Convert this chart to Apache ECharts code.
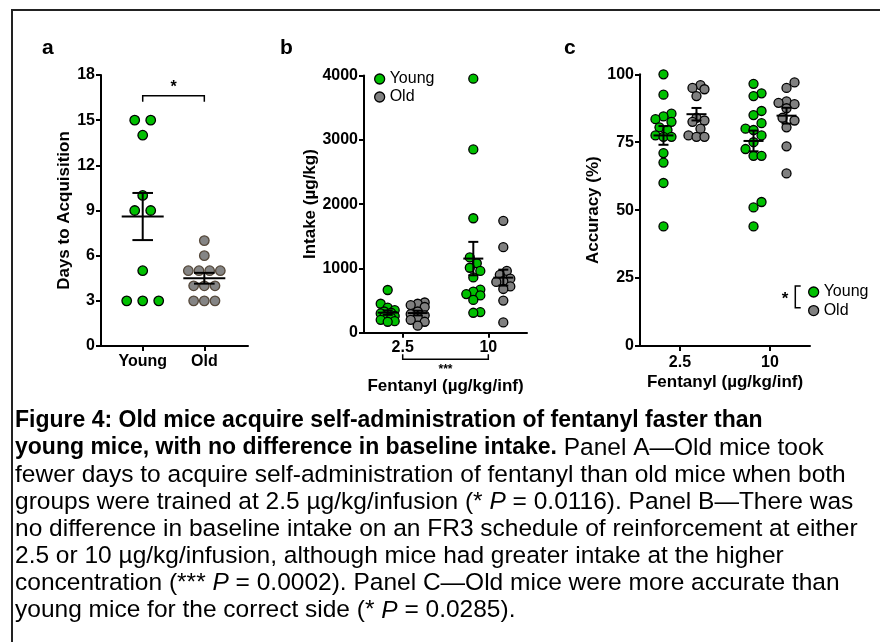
<!DOCTYPE html>
<html><head><meta charset="utf-8">
<script src="https://cdn.jsdelivr.net/npm/echarts@6/dist/echarts.min.js"></script>
<style>html,body{margin:0;padding:0;background:#fff}#c{width:880px;height:642px}</style>
</head><body><div id="c"></div>
<script>
// ---------- DATA ----------
// Panel a: days to acquisition
const groupsA = ['Young', 'Old'];
const daysYoung = [15, 15, 14, 10, 9, 9, 5, 3, 3, 3];
const daysOld = [7, 6, 5, 5, 5, 5, 4, 4, 4, 3, 3, 3];
const ticksA = [0, 3, 6, 9, 12, 15, 18];
// Panel b: intake (ug/kg) by dose
const doses = ['2.5', '10'];
const intakeYoung25 = [664, 450, 390, 350, 330, 310, 300, 280, 260, 250, 230, 200, 180, 170];
const intakeOld25 = [470, 450, 430, 400, 330, 290, 270, 240, 200, 170, 110];
const intakeYoung10 = [3950, 2850, 1780, 1170, 1080, 1010, 960, 860, 670, 640, 600, 580, 510, 320, 310];
const intakeOld10 = [1740, 1330, 960, 900, 840, 800, 790, 720, 680, 500, 160];
const ticksB = [0, 1000, 2000, 3000, 4000];
// Panel c: accuracy (%) by dose
const accYoung25 = [100, 92.5, 85.5, 84.5, 83.5, 82.5, 80.5, 79.5, 77.5, 77, 77, 71, 67.5, 60, 44];
const accOld25 = [96, 95, 94.5, 92, 84, 83, 82.5, 80, 77.5, 77, 77];
const accYoung10 = [96.5, 93, 92, 86.5, 85, 82, 80, 79.5, 77.5, 75, 72.5, 70, 70, 53, 51, 44];
const accOld10 = [97, 95, 90, 89.5, 89, 87.5, 84, 83, 80.5, 73.5, 63.5];
const ticksC = [0, 25, 50, 75, 100];

const captionLines = [
  [['b', 'Figure 4: Old mice acquire self-administration of fentanyl faster than']],
  [['b', 'young mice, with no difference in baseline intake.'], ['r', ' Panel A\u2014Old mice took']],
  [['r', 'fewer days to acquire self-administration of fentanyl than old mice when both']],
  [['r', 'groups were trained at 2.5 \u00b5g/kg/infusion (* '], ['i', 'P'], ['r', ' = 0.0116). Panel B\u2014There was']],
  [['r', 'no difference in baseline intake on an FR3 schedule of reinforcement at either']],
  [['r', '2.5 or 10 \u00b5g/kg/infusion, although mice had greater intake at the higher']],
  [['r', 'concentration (*** '], ['i', 'P'], ['r', ' = 0.0002). Panel C\u2014Old mice were more accurate than']],
  [['r', 'young mice for the correct side (* '], ['i', 'P'], ['r', ' = 0.0285).']]
];

// ---------- HELPERS ----------
const FONT = 'Liberation Sans, Arial, sans-serif';
const GREEN = '#00c000', GRAY = '#808080';
function mean(a) { return a.reduce((s, v) => s + v, 0) / a.length; }
function sem(a) { const m = mean(a); const v = a.reduce((s, x) => s + (x - m) * (x - m), 0) / (a.length - 1); return Math.sqrt(v / a.length); }
function errItem(xi, arr) { const m = mean(arr), s = sem(arr); return [xi, m, m - s, m + s]; }

const chart = echarts.init(document.getElementById('c'));

function yAxisCfg(gi, max, interval, name, nameGap) {
  return {
    type: 'value', gridIndex: gi, min: 0, max: max, interval: interval,
    axisLine: { show: true, onZero: false, lineStyle: { color: '#000', width: 2 } },
    axisTick: { show: true, length: 5, lineStyle: { color: '#000', width: 2 } },
    axisLabel: { color: '#000', fontFamily: FONT, fontWeight: 'bold', fontSize: 16, margin: 6, formatter: v => String(v) },
    splitLine: { show: false },
    name: name, nameLocation: 'middle', nameGap: nameGap,
    nameTextStyle: { color: '#000', fontFamily: FONT, fontWeight: 'bold', fontSize: 17 }
  };
}
function xAxisCfg(gi, min, max, labels, margin, name, nameGap) {
  return {
    type: 'value', gridIndex: gi, min: min, max: max,
    axisLine: { show: true, onZero: false, lineStyle: { color: '#000', width: 2 } },
    axisTick: { show: true, length: 5, customValues: [0, 1], lineStyle: { color: '#000', width: 2 } },
    axisLabel: { customValues: [0, 1], formatter: v => labels[Math.round(v)], color: '#000', fontFamily: FONT, fontWeight: 'bold', fontSize: 16, margin: margin },
    splitLine: { show: false },
    name: name, nameLocation: 'middle', nameGap: nameGap,
    nameTextStyle: { color: '#000', fontFamily: FONT, fontWeight: 'bold', fontSize: 17 }
  };
}

const groups = [
  { id: 'aY', ax: 0, xi: 0, vals: daysYoung, color: GREEN, border: '#000', shift: 0, name: 'Young' },
  { id: 'aO', ax: 0, xi: 1, vals: daysOld, color: '#858585', border: '#55483a', shift: 0, name: 'Old' },
  { id: 'bY25', ax: 1, xi: 0, vals: intakeYoung25, color: GREEN, border: '#000', shift: -15, name: 'Young' },
  { id: 'bO25', ax: 1, xi: 0, vals: intakeOld25, color: GRAY, border: '#000', shift: 15, name: 'Old' },
  { id: 'bY10', ax: 1, xi: 1, vals: intakeYoung10, color: GREEN, border: '#000', shift: -15, name: 'Young' },
  { id: 'bO10', ax: 1, xi: 1, vals: intakeOld10, color: GRAY, border: '#000', shift: 15, name: 'Old' },
  { id: 'cY25', ax: 2, xi: 0, vals: accYoung25, color: GREEN, border: '#000', shift: -16.5, name: 'Young' },
  { id: 'cO25', ax: 2, xi: 0, vals: accOld25, color: GRAY, border: '#000', shift: 16.5, name: 'Old' },
  { id: 'cY10', ax: 2, xi: 1, vals: accYoung10, color: GREEN, border: '#000', shift: -16.5, name: 'Young' },
  { id: 'cO10', ax: 2, xi: 1, vals: accOld10, color: GRAY, border: '#000', shift: 16.5, name: 'Old' }
];
const errW = [{ m: 21, c: 10.3 }, { m: 10, c: 5 }, { m: 10, c: 5 }];

function scatterSeries(g, offs) {
  return {
    id: g.id, type: 'scatter', name: g.name, xAxisIndex: g.ax, yAxisIndex: g.ax,
    symbol: 'circle', symbolSize: g.ax === 0 ? 9.5 : 9,
    itemStyle: { color: g.color, borderColor: g.border, borderWidth: 1.3, opacity: 1 },
    emphasis: { disabled: true }, z: 2,
    data: g.vals.map((v, i) => ({ value: [g.xi, v], symbolOffset: [g.shift + (offs ? offs[i] : 0), 0] }))
  };
}
function errSeries(g) {
  const w = errW[g.ax];
  return {
    id: g.id + '_err', type: 'custom', xAxisIndex: g.ax, yAxisIndex: g.ax, z: 5, silent: true,
    data: [errItem(g.xi, g.vals)],
    renderItem: function (params, api) {
      const pm = api.coord([api.value(0), api.value(1)]);
      const pl = api.coord([api.value(0), api.value(2)]);
      const ph = api.coord([api.value(0), api.value(3)]);
      const x = pm[0] + g.shift;
      const st = { stroke: '#000', lineWidth: 2, fill: null };
      return { type: 'group', children: [
        { type: 'line', shape: { x1: x - w.m, y1: pm[1], x2: x + w.m, y2: pm[1] }, style: st },
        { type: 'line', shape: { x1: x, y1: pl[1], x2: x, y2: ph[1] }, style: st },
        { type: 'line', shape: { x1: x - w.c, y1: pl[1], x2: x + w.c, y2: pl[1] }, style: st },
        { type: 'line', shape: { x1: x - w.c, y1: ph[1], x2: x + w.c, y2: ph[1] }, style: st }
      ] };
    }
  };
}

const legendText = { color: '#000', fontFamily: FONT, fontSize: 16, lineHeight: 16 };
const legendItems = [
  { name: 'Young', itemStyle: { color: GREEN, borderColor: '#000', borderWidth: 1.3 } },
  { name: 'Old', itemStyle: { color: GRAY, borderColor: '#000', borderWidth: 1.3 } }
];

const baseOption = {
  animation: false,
  backgroundColor: '#fff',
  grid: [
    { left: 101, top: 75, width: 147, height: 271 },
    { left: 364, top: 75.5, width: 163, height: 257.2 },
    { left: 640, top: 74.3, width: 170, height: 271.7 }
  ],
  xAxis: [
    xAxisCfg(0, -0.677, 1.709, groupsA, 8, '', 0),
    xAxisCfg(1, -0.452, 1.452, doses, 7, 'Fentanyl (\u00b5g/kg/inf)', 45),
    xAxisCfg(2, -0.444, 1.444, doses, 9, 'Fentanyl (\u00b5g/kg/inf)', 28)
  ],
  yAxis: [
    yAxisCfg(0, ticksA[ticksA.length - 1], ticksA[1] - ticksA[0], 'Days to Acquisition', 20),
    yAxisCfg(1, ticksB[ticksB.length - 1], ticksB[1] - ticksB[0], 'Intake (\u00b5g/kg)', 45),
    yAxisCfg(2, ticksC[ticksC.length - 1], ticksC[1] - ticksC[0], 'Accuracy (%)', 38)
  ],
  legend: [
    { orient: 'vertical', left: 369, top: 66, itemWidth: 10, itemHeight: 10, itemGap: 2, icon: 'circle',
      textStyle: legendText, data: legendItems, selectedMode: false },
    { orient: 'vertical', left: 803, top: 279, itemWidth: 10, itemHeight: 10, itemGap: 2.6, icon: 'circle',
      textStyle: legendText, data: legendItems, selectedMode: false }
  ],
  series: groups.map(g => scatterSeries(g, null)).concat(groups.map(errSeries))
};
chart.setOption(baseOption);

// ---------- point arrangement (computed from pixel positions) ----------
function rowsLayout(py, step, maxW) {
  const rows = {};
  py.forEach((y, i) => { const k = Math.round(y * 10); (rows[k] = rows[k] || []).push(i); });
  const keys = Object.keys(rows);
  const maxN = Math.max(...keys.map(k => rows[k].length));
  const sp = maxN > 1 ? Math.min(step, maxW / (maxN - 1)) : step;
  const offs = new Array(py.length).fill(0);
  keys.forEach(k => { const r = rows[k]; r.forEach((i, j) => { offs[i] = (j - (r.length - 1) / 2) * sp; }); });
  return offs;
}
function swarmLayout(py, D, step, maxHalf) {
  const order = py.map((y, i) => i).sort((a, b) => py[b] - py[a]);
  const offs = new Array(py.length).fill(0);
  const placed = [];
  const cands = [0];
  for (let k = step; k <= maxHalf + 1e-6; k += step) { cands.push(k, -k); }
  order.forEach(i => {
    let best = null, bestD = -1;
    for (const c of cands) {
      let md = Infinity;
      for (const p of placed) { md = Math.min(md, Math.hypot(c - p.x, py[i] - p.y)); }
      if (md >= D) { best = c; bestD = md; break; }
      if (md > bestD) { bestD = md; best = c; }
    }
    offs[i] = best;
    placed.push({ x: best, y: py[i] });
  });
  return offs;
}

const finalSeries = groups.map(g => {
  const py = g.vals.map(v => chart.convertToPixel({ xAxisIndex: g.ax, yAxisIndex: g.ax }, [g.xi, v])[1]);
  let offs;
  if (g.ax === 0) offs = rowsLayout(py, 16, 32);
  else if (g.ax === 1) offs = swarmLayout(py, 8, 3.5, 8);
  else offs = swarmLayout(py, 8.5, 4, 10);
  return scatterSeries(g, offs);
});

// ---------- annotations ----------
const P = (ax, x, y) => chart.convertToPixel({ xAxisIndex: ax, yAxisIndex: ax }, [x, y]);
const aL = P(0, 0, 16.62), aR = P(0, 1, 16.62);
const b0 = P(1, 0, 0), b1 = P(1, 1, 0);
const lineSt = { stroke: '#000', lineWidth: 1.5, fill: null };
const graphics = [
  { type: 'line', shape: { x1: 12, y1: 10, x2: 12, y2: 642 }, style: { stroke: '#222', lineWidth: 2 } },
  { type: 'line', shape: { x1: 11, y1: 10, x2: 880, y2: 10 }, style: { stroke: '#222', lineWidth: 2 } },
  { type: 'text', x: 42, y: 38, style: { text: 'a', font: 'bold 21px ' + FONT, fill: '#000' } },
  { type: 'text', x: 280, y: 38, style: { text: 'b', font: 'bold 21px ' + FONT, fill: '#000' } },
  { type: 'text', x: 564, y: 38, style: { text: 'c', font: 'bold 21px ' + FONT, fill: '#000' } },
  { type: 'polyline', shape: { points: [[aL[0], aL[1] + 6], [aL[0], aL[1]], [aR[0], aR[1]], [aR[0], aR[1] + 6]] }, style: lineSt },
  { type: 'text', x: (aL[0] + aR[0]) / 2, y: aL[1] - 8, style: { text: '*', font: 'bold 16px ' + FONT, fill: '#000', align: 'center', verticalAlign: 'middle' } },
  { type: 'polyline', shape: { points: [[b0[0], b0[1] + 21.6], [b0[0], b0[1] + 26.6], [b1[0], b1[1] + 26.6], [b1[0], b1[1] + 21.6]] }, style: lineSt },
  { type: 'text', x: (b0[0] + b1[0]) / 2, y: b0[1] + 37, style: { text: '***', font: 'bold 12px ' + FONT, fill: '#000', align: 'center', verticalAlign: 'middle' } },
  { type: 'polyline', shape: { points: [[800.7, 286], [795.3, 286], [795.3, 307.7], [800.7, 307.7]] }, style: lineSt },
  { type: 'text', x: 785, y: 299, style: { text: '*', font: 'bold 17px ' + FONT, fill: '#000', align: 'center', verticalAlign: 'middle' } }
];
const capRich = {
  b: { fontFamily: FONT, fontWeight: 'bold', fontSize: 23, fill: '#000' },
  r: { fontFamily: FONT, fontWeight: 'normal', fontSize: 24.5, fill: '#000' },
  i: { fontFamily: FONT, fontWeight: 'normal', fontStyle: 'italic', fontSize: 24.5, fill: '#000' }
};
captionLines.forEach((segs, k) => {
  graphics.push({
    type: 'text', x: 15, y: 421 + k * 27.1,
    style: { text: segs.map(s => '{' + s[0] + '|' + s[1] + '}').join(''), rich: capRich, verticalAlign: 'middle', fill: '#000', font: '24px ' + FONT }
  });
});

chart.setOption({ series: finalSeries, graphic: graphics });
</script></body></html>
